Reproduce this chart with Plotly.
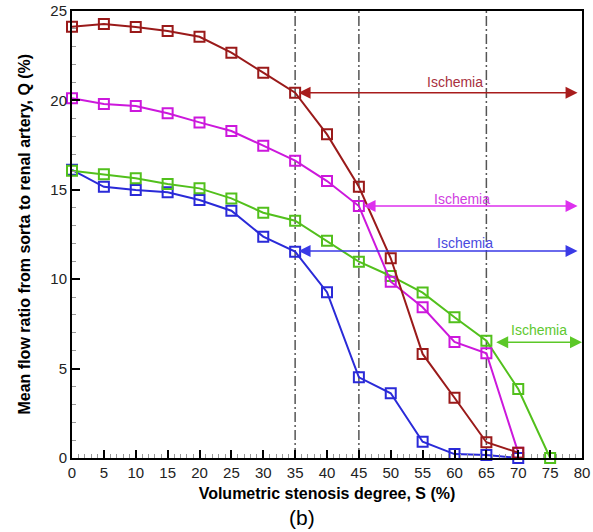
import plotly.graph_objects as go

S = [0, 5, 10, 15, 20, 25, 30, 35, 40, 45, 50, 55, 60, 65, 70, 75]

q_red = [24.12, 24.27, 24.1, 23.88, 23.56, 22.67, 21.55, 20.43, 18.1, 15.17, 11.17, 5.82, 3.37, 0.88, 0.3]
q_magenta = [20.12, 19.8, 19.69, 19.28, 18.77, 18.29, 17.47, 16.63, 15.49, 14.09, 9.86, 8.43, 6.49, 5.86, 0.3]
q_green = [16.07, 15.87, 15.64, 15.32, 15.08, 14.52, 13.72, 13.27, 12.15, 10.98, 10.18, 9.25, 7.87, 6.56, 3.86, 0.0]
q_blue = [16.12, 15.17, 14.99, 14.86, 14.43, 13.83, 12.38, 11.54, 9.27, 4.51, 3.62, 0.91, 0.22, 0.17, 0.0]

threshold_S = [35, 45, 65]

# ischemia arrows: (y level, x start, x end, label x, label y, arrow color, text color)
isch_red = (20.43, 35.3, 79.3, 60.0, 21.05, "#a81c1c", "#a83040")
isch_magenta = (14.09, 45.5, 79.3, 61.2, 14.5, "#dd30ee", "#d040e0")
isch_blue = (11.58, 35.3, 79.3, 61.7, 12.04, "#3a3ae6", "#4a4ae0")
isch_green = (6.47, 66.3, 80.0, 73.3, 7.16, "#5cc828", "#60c830")

series = [
    (q_blue, "#2a2ad8"),
    (q_green, "#52c01c"),
    (q_magenta, "#cc18dc"),
    (q_red, "#9a1a1a"),
]

fig = go.Figure()
for ys, col in series:
    fig.add_trace(go.Scatter(
        x=S[:len(ys)], y=ys, mode="lines+markers",
        line=dict(color=col, width=2),
        marker=dict(symbol="square-open", size=10, color=col, line=dict(width=2, color=col)),
        cliponaxis=False, showlegend=False,
    ))

shapes = []
for xv in threshold_S:
    shapes.append(dict(type="line", xref="x", yref="paper", x0=xv, x1=xv, y0=0, y1=1,
                       line=dict(color="#555555", width=1.5, dash="10px,3px,2px,3px"), layer="below"))
fig.update_layout(shapes=shapes)

annotations = []
for (yl, xs, xe, tx, ty, col, tcol) in [isch_red, isch_magenta, isch_blue, isch_green]:
    annotations.append(dict(x=xe, y=yl, ax=xs, ay=yl, xref="x", yref="y", axref="x", ayref="y",
                            text="", showarrow=True, arrowhead=2, arrowside="end+start",
                            arrowsize=1.6, arrowwidth=1.5, arrowcolor=col, standoff=0, startstandoff=0))
    annotations.append(dict(x=tx, y=ty, xref="x", yref="y", text="Ischemia", showarrow=False,
                            font=dict(family="Liberation Sans, Arial", size=14, color=tcol)))
annotations.append(dict(x=0.45, y=0, xref="paper", yref="paper", yanchor="middle", yshift=-59,
                        text="(b)", showarrow=False,
                        font=dict(family="Liberation Sans, Arial", size=21, color="black")))
# y-axis title placed explicitly
annotations.append(dict(x=24, y=0.5, xref="paper", yref="paper", xanchor="center", yanchor="middle",
                        text="<b>Mean flow ratio from sorta to renal artery, Q (%)</b>", textangle=-90,
                        showarrow=False, font=dict(family="Liberation Sans, Arial", size=16, color="black")))
annotations[-1]["x"] = (24 - 72) / 510.0
fig.update_layout(annotations=annotations)

fig.update_layout(
    width=593, height=532,
    margin=dict(l=72, r=11, t=11, b=74),
    paper_bgcolor="white", plot_bgcolor="white",
    font=dict(family="Liberation Sans, Arial", color="black"),
    xaxis=dict(range=[0, 80], dtick=5, ticks="inside", ticklen=8, tickwidth=2, tickcolor="black",
               minor=dict(dtick=1, ticks="inside", ticklen=4, tickwidth=1, tickcolor="#999999"),
               showline=True, linecolor="black", linewidth=2, mirror=True, showgrid=False, zeroline=False,
               tickfont=dict(size=15, color="#222222"), ticklabeloverflow="allow", automargin=False,
               title=dict(text="<b>Volumetric stenosis degree, S (%)</b>", font=dict(size=16), standoff=8)),
    yaxis=dict(range=[0, 25], dtick=5, ticks="inside", ticklen=8, tickwidth=2, tickcolor="black",
               minor=dict(dtick=1, ticks="inside", ticklen=4, tickwidth=1, tickcolor="#999999"),
               showline=True, linecolor="black", linewidth=2, mirror=True, showgrid=False, zeroline=False,
               tickfont=dict(size=15, color="#222222"), ticklabeloverflow="allow", automargin=False),
)

fig.write_html("out.html", post_script="document.body.style.margin='0px';",
               config={"displayModeBar": False})
